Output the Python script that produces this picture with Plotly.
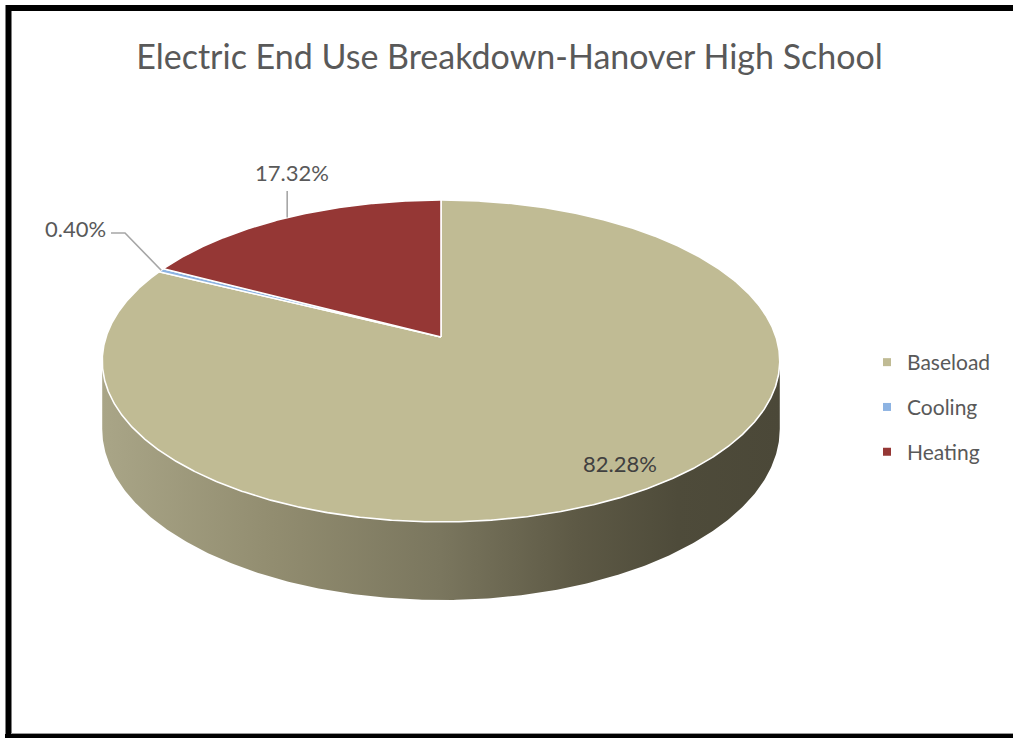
import math
import plotly.graph_objects as go

# ---------------- data ----------------
categories = ["Baseload", "Cooling", "Heating"]
values = [82.28, 0.40, 17.32]
colors = ["#c0bb94", "#8db3e2", "#953735"]
title_text = "Electric End Use Breakdown-Hanover High School"

# ---------------- geometry (pixel space) ----------------
W, H = 1013, 738
CX, CY = 441, 337          # pie centre (tip of slices)
RX, RY = 335, 157.4        # radii of the top face
P = 0.149                  # perspective strength
D = 66.4                   # thickness
FONT = "Lato"
TXT = "#595959"


def proj(phi_deg, r=1.0, down=0.0):
    a = math.radians(phi_deg)
    s, c = math.sin(a), math.cos(a)
    den = 1 + P * r * c
    x = CX + RX * r * s / den
    y = CY - RY * r * c / den + D * down / den
    return x, y


def arc(a0, a1, down=0.0, step=0.5):
    n = max(2, int(abs(a1 - a0) / step) + 1)
    pts = [proj(a0 + (a1 - a0) * i / (n - 1), 1.0, down) for i in range(n)]
    return [p[0] for p in pts], [p[1] for p in pts]


total = sum(values)
starts, ends = [], []
acc = 0.0
for v in values:
    starts.append(acc / total * 360.0)
    acc += v
    ends.append(acc / total * 360.0)

fig = go.Figure()

# ---- side wall (visible front part, belongs to Baseload) ----
sil = math.degrees(math.acos(-P))          # silhouette angle
s0, s1 = sil, 360 - sil
tx, ty = arc(s0, s1, 0.0)
bx, by = arc(s1, s0, 1.0)
fig.add_trace(go.Scatter(
    x=tx + bx + [tx[0]], y=ty + by + [ty[0]],
    mode="lines", line=dict(width=0, color="rgba(0,0,0,0)"),
    fill="toself",
    fillgradient=dict(type="horizontal", colorscale=[
        [0.0, "#a9a587"], [0.25, "#928d70"], [0.5, "#7a765e"],
        [0.7, "#5d5945"], [0.85, "#4e4b3a"], [1.0, "#4b4838"]]),
    hoverinfo="skip", showlegend=False))

# ---- top face slices ----
for cat, v, col, a0, a1 in zip(categories, values, colors, starts, ends):
    ax, ay = arc(a0, a1, 0.0, step=0.25)
    xs = [CX] + ax + [CX]
    ys = [CY] + ay + [CY]
    fig.add_trace(go.Scatter(
        x=xs, y=ys, mode="lines", fill="toself", fillcolor=col,
        line=dict(color="white", width=1.6),
        name=cat, legendgroup=cat, showlegend=False,
        hovertemplate=f"{cat}: {v:.2f}%<extra></extra>"))

# ---- legend entries ----
for cat, col in zip(categories, colors):
    fig.add_trace(go.Scatter(
        x=[None], y=[None], mode="markers", name=cat, legendgroup=cat,
        marker=dict(symbol="square", size=8, color=col)))

# ---- data labels ----
mid = [(a0 + a1) / 2 for a0, a1 in zip(starts, ends)]
lab = [f"{v:.2f}%" for v in values]
LBL = 22

# Baseload: inside
fig.add_annotation(x=620, y=463, text=lab[0], showarrow=False,
                   font=dict(family=FONT, size=LBL, color="#404040"),
                   xanchor="center", yanchor="middle")

# Heating: outside with vertical leader
hx, hy = proj(mid[2])
fig.add_trace(go.Scatter(x=[hx, hx], y=[hy, 191], mode="lines",
                         line=dict(color="#a6a6a6", width=1.6),
                         hoverinfo="skip", showlegend=False))
fig.add_annotation(x=292, y=172, text=lab[2], showarrow=False,
                   font=dict(family=FONT, size=LBL, color=TXT),
                   xanchor="center", yanchor="middle")

# Cooling: outside with bent leader
cx_, cy_ = proj(mid[1])
fig.add_trace(go.Scatter(x=[cx_, 125, 111], y=[cy_, 233, 233], mode="lines",
                         line=dict(color="#a6a6a6", width=1.6),
                         hoverinfo="skip", showlegend=False))
fig.add_annotation(x=108, y=228, text=lab[1], showarrow=False,
                   font=dict(family=FONT, size=LBL, color=TXT),
                   xanchor="right", yanchor="middle")

# ---- frame ----
fig.add_shape(type="line", xref="x", yref="y", x0=8.5, y0=8, x1=W, y1=8,
              line=dict(color="black", width=6))
fig.add_shape(type="line", xref="x", yref="y", x0=8.5, y0=5, x1=8.5, y1=H,
              line=dict(color="black", width=6))
fig.add_shape(type="line", xref="x", yref="y", x0=5, y0=736, x1=W, y1=736,
              line=dict(color="black", width=4))
fig.add_shape(type="line", xref="x", yref="y", x0=11, y0=733.5, x1=W, y1=733.5,
              line=dict(color="#9a9a9a", width=1))

fig.update_layout(
    width=W, height=H, autosize=False,
    margin=dict(l=0, r=0, t=0, b=0),
    paper_bgcolor="white", plot_bgcolor="white",
    title=dict(text=title_text, x=0.503, xanchor="center",
               y=1 - 57 / H, yanchor="middle",
               font=dict(family=FONT, size=34, color=TXT)),
    xaxis=dict(range=[0, W], visible=False, fixedrange=True),
    yaxis=dict(range=[H, 0], visible=False, fixedrange=True),
    showlegend=True,
    legend=dict(x=867 / W, xanchor="left", y=1 - 342 / H, yanchor="top",
                font=dict(family=FONT, size=21, color=TXT),
                tracegroupgap=14.5, itemwidth=30,
                bgcolor="rgba(0,0,0,0)"),
)

fig.write_html("out.html")
